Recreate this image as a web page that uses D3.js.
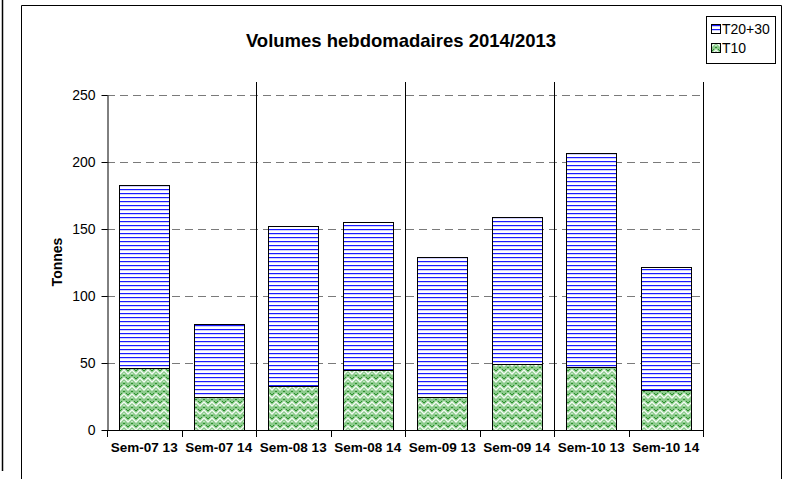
<!DOCTYPE html>
<html><head><meta charset="utf-8">
<script src="https://cdn.jsdelivr.net/npm/d3@7"></script>
<style>body{margin:0;background:#fff}svg{display:block}text{font-family:"Liberation Sans",Arial,sans-serif}</style>
</head><body><svg id="c" width="792" height="479"></svg>
<script>
const categories = ["Sem-07 13","Sem-07 14","Sem-08 13","Sem-08 14","Sem-09 13","Sem-09 14","Sem-10 13","Sem-10 14"];
const t10 = [46, 25, 33, 45, 25, 49, 47, 30];
const t2030 = [137, 54, 119, 110, 104, 110, 160, 92];
const yTicks = [0, 50, 100, 150, 200, 250];
const seriesNames = ["T20+30", "T10"];

const svg = d3.select("#c");
const defs = svg.append("defs");
// blue horizontal stripes
const pb = defs.append("pattern").attr("id","pBlue").attr("patternUnits","userSpaceOnUse").attr("width",8).attr("height",4);
pb.append("rect").attr("width",8).attr("height",4).attr("fill","#fff");
pb.append("rect").attr("y",1).attr("width",8).attr("height",1).attr("fill","#1a1aff");
pb.append("rect").attr("y",2).attr("width",8).attr("height",1).attr("fill","#d0d0ff");
// green weave
const pg = defs.append("pattern").attr("id","pGreen").attr("patternUnits","userSpaceOnUse").attr("width",8).attr("height",8);
pg.append("rect").attr("width",8).attr("height",8).attr("fill","#8ccb8c");
pg.append("path").attr("d","M0,6 L4,2 L8,6 M-4,10 L0,6 M8,6 L12,10").attr("stroke","#f4fbf4").attr("stroke-width",1.4).attr("fill","none");
pg.append("path").attr("d","M0,3 L2,1 M6,1 L8,3 M3,8 L4,7 L5,8").attr("stroke","#2f8f2f").attr("stroke-width",1).attr("fill","none");
pg.append("rect").attr("x",3).attr("y",5).attr("width",2).attr("height",1).attr("fill","#c9e8c9");

// outer lines / frame
svg.append("line").attr("x1",2.5).attr("x2",2.5).attr("y1",0).attr("y2",471).attr("stroke","#000").attr("stroke-width",1.5);
svg.append("path").attr("d","M21.5,479 V5.5 H781.5 V479").attr("fill","none").attr("stroke","#000").attr("stroke-width",1);

const x0 = 107, x1 = 703;
const x = d3.scaleBand().domain(categories).range([x0, x1]).paddingInner(0.33).paddingOuter(0.165);
const y = d3.scaleLinear().domain([0, 250]).range([430, 95]);

// gridlines
svg.append("g").selectAll("line").data(yTicks.filter(d=>d>0)).join("line")
  .attr("x1",x0).attr("x2",x1).attr("y1",d=>Math.round(y(d))+0.5).attr("y2",d=>Math.round(y(d))+0.5)
  .attr("stroke","#7a7a7a").attr("stroke-dasharray","8,5");

// separators every 2 categories
const step = (x1 - x0) / categories.length;
const seps = d3.range(2, categories.length + 1, 2);
svg.append("g").selectAll("line").data(seps).join("line")
  .attr("x1",d=>Math.round(x0 + d*step)+0.5).attr("x2",d=>Math.round(x0 + d*step)+0.5)
  .attr("y1",82).attr("y2",430).attr("stroke","#000");

// bars
const data = categories.map((c,i)=>({c, a:t10[i], b:t2030[i]}));
const g = svg.append("g");
g.selectAll(".b10").data(data).join("rect")
  .attr("x",d=>Math.round(x(d.c))+0.5).attr("width",Math.round(x.bandwidth()))
  .attr("y",d=>Math.round(y(d.a))+0.5).attr("height",d=>Math.round(y(0))-Math.round(y(d.a)))
  .attr("fill","url(#pGreen)").attr("stroke","#000");
g.selectAll(".b20").data(data).join("rect")
  .attr("x",d=>Math.round(x(d.c))+0.5).attr("width",Math.round(x.bandwidth()))
  .attr("y",d=>Math.round(y(d.a+d.b))+0.5).attr("height",d=>Math.round(y(d.a))-Math.round(y(d.a+d.b)))
  .attr("fill","url(#pBlue)").attr("stroke","#000");

// y axis
const ya = svg.append("g").attr("transform",`translate(${x0+0.5},0)`)
  .call(d3.axisLeft(y).tickValues(yTicks).tickSize(6).tickPadding(6).tickSizeOuter(0));
ya.select(".domain").attr("stroke","#000");
ya.selectAll(".tick line").attr("stroke","#000");
ya.selectAll("text").attr("font-size",14).attr("fill","#000").attr("font-family","Liberation Sans, Arial, sans-serif");

// x axis
svg.append("line").attr("x1",x0).attr("x2",x1+1).attr("y1",430.5).attr("y2",430.5).attr("stroke","#000");
svg.append("g").selectAll("line").data(d3.range(0, categories.length+1)).join("line")
  .attr("x1",d=>Math.round(x0+d*step)+0.5).attr("x2",d=>Math.round(x0+d*step)+0.5)
  .attr("y1",430).attr("y2",437).attr("stroke","#000");
svg.append("g").selectAll("text").data(categories).join("text")
  .attr("x",d=>x(d)+x.bandwidth()/2).attr("y",452).attr("text-anchor","middle")
  .attr("font-size",13.5).attr("font-weight","bold").text(d=>d);

// titles
svg.append("text").attr("x",401).attr("y",47).attr("text-anchor","middle")
  .attr("font-size",18.5).attr("font-weight","bold").text("Volumes hebdomadaires 2014/2013");
svg.append("text").attr("transform","translate(57,262) rotate(-90)").attr("text-anchor","middle")
  .attr("dy","0.35em").attr("font-size",14).attr("font-weight","bold").text("Tonnes");

// legend
const lg = svg.append("g");
lg.append("rect").attr("x",706.5).attr("y",16.5).attr("width",69).attr("height",47).attr("fill","#fff").attr("stroke","#000");
const fills = ["url(#pBlue)","url(#pGreen)"];
seriesNames.forEach((n,i)=>{
  lg.append("rect").attr("x",711.5).attr("y",24.5+i*19).attr("width",9).attr("height",9).attr("fill",fills[i]).attr("stroke","#000");
  lg.append("text").attr("x",722).attr("y",34+i*19).attr("font-size",14).text(n);
});
</script></body></html>
